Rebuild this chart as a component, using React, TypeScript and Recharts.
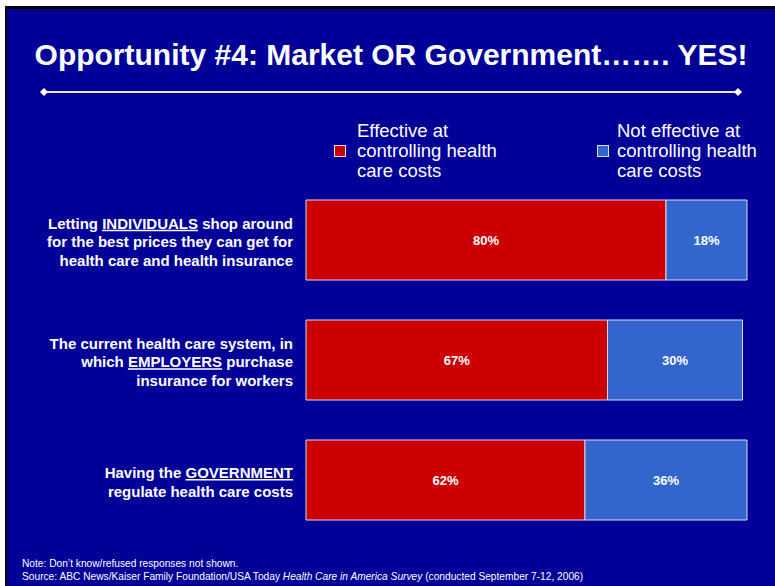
import { BarChart, Bar, XAxis, YAxis, LabelList } from 'recharts';

// categories, label lines (words between _ are underlined), series values
const categories = ['INDIVIDUALS', 'EMPLOYERS', 'GOVERNMENT'];
const labelLines = [
  ['Letting _INDIVIDUALS_ shop around', 'for the best prices they can get for', 'health care and health insurance'],
  ['The current health care system, in', 'which _EMPLOYERS_ purchase', 'insurance for workers'],
  ['Having the _GOVERNMENT_', 'regulate health care costs'],
];
const effective = [80, 67, 62];
const notEffective = [18, 30, 36];
const seriesNames = [
  ['Effective at', 'controlling health', 'care costs'],
  ['Not effective at', 'controlling health', 'care costs'],
];

const RED = '#CC0000';
const BLUE = '#3366CC';
const BG = '#000099';
const FONT = '"Liberation Sans", Arial, sans-serif';

const data = categories.map((c, i) => ({ name: c, effective: effective[i], notEffective: notEffective[i] }));

const LabelTick = (props: any) => {
  const { x, y, payload } = props;
  const lines = labelLines[payload.index] ?? [];
  const step = 18.5;
  const start = y - ((lines.length - 1) * step) / 2 + 2;
  return (
    <text x={x - 5} y={start} textAnchor="end" fill="#fff" fontFamily={FONT} fontSize={15} fontWeight="bold">
      {lines.map((line, li) => (
        <tspan key={li} x={x - 5} y={start + li * step} dy="0.35em">
          {line.split('_').map((part, pi) => (
            <tspan key={pi} style={pi % 2 === 1 ? { textDecoration: 'underline' } : undefined}>
              {part}
            </tspan>
          ))}
        </tspan>
      ))}
    </text>
  );
};

const legendX = [334, 597];

export default function App() {
  return (
    <div style={{ position: 'absolute', left: 0, top: 0, width: 775, height: 586, background: '#fff', overflow: 'hidden' }}>
      <div
        style={{
          position: 'absolute',
          left: 5,
          top: 6,
          width: 790,
          height: 577,
          background: BG,
          borderTop: '3px solid #000',
          borderLeft: '2px solid #000',
          borderBottom: '2px solid #000',
        }}
      />
      <div
        style={{
          position: 'absolute',
          left: 7,
          top: 38,
          width: 768,
          textAlign: 'center',
          color: '#fff',
          fontFamily: FONT,
          fontWeight: 'bold',
          fontSize: 30,
        }}
      >
        Opportunity #4: Market OR Government……. YES!
      </div>
      <svg style={{ position: 'absolute', left: 0, top: 0 }} width={775} height={586}>
        <line x1={44} y1={92} x2={738} y2={92} stroke="#e8e8f0" strokeWidth={2} />
        <polygon points="44,88 48,92 44,96 40,92" fill="#fff" />
        <polygon points="738,88 742,92 738,96 734,92" fill="#fff" />
      </svg>
      {seriesNames.map((lines, i) => (
        <div
          key={i}
          style={{
            position: 'absolute',
            left: legendX[i],
            top: 121,
            fontFamily: FONT,
            fontSize: 18.5,
            color: '#fff',
            lineHeight: '20px',
            paddingLeft: i === 0 ? 23 : 20,
            whiteSpace: 'nowrap',
          }}
        >
          <div
            style={{
              position: 'absolute',
              left: 0,
              top: 24,
              width: 10,
              height: 10,
              background: i === 0 ? RED : BLUE,
              border: '1px solid #ddd',
            }}
          />
          {lines.map((l, li) => (
            <div key={li}>{l}</div>
          ))}
        </div>
      ))}
      <div style={{ position: 'absolute', left: 0, top: 0 }}>
        <BarChart
          width={775}
          height={586}
          data={data}
          layout="vertical"
          barCategoryGap={20}
          margin={{ top: 180, right: 19, bottom: 46, left: 0 }}
        >
          <XAxis type="number" domain={[0, 100]} hide />
          <YAxis
            type="category"
            dataKey="name"
            width={306}
            axisLine={false}
            tickLine={false}
            tick={<LabelTick />}
          />
          <Bar dataKey="effective" stackId="a" fill={RED} stroke="#d8d8e8" strokeWidth={1} isAnimationActive={false}>
            <LabelList
              dataKey="effective"
              position="center"
              formatter={(v: any) => `${v}%`}
              fill="#fff"
              fontFamily={FONT}
              fontSize={13}
              fontWeight="bold"
            />
          </Bar>
          <Bar dataKey="notEffective" stackId="a" fill={BLUE} stroke="#d8d8e8" strokeWidth={1} isAnimationActive={false}>
            <LabelList
              dataKey="notEffective"
              position="center"
              formatter={(v: any) => `${v}%`}
              fill="#fff"
              fontFamily={FONT}
              fontSize={13}
              fontWeight="bold"
            />
          </Bar>
        </BarChart>
      </div>
      <div
        style={{
          position: 'absolute',
          left: 22,
          top: 557,
          color: '#fff',
          fontFamily: FONT,
          fontSize: 10.2,
          lineHeight: '13px',
        }}
      >
        <div>Note: Don’t know/refused responses not shown.</div>
        <div>
          Source: ABC News/Kaiser Family Foundation/USA Today <i>Health Care in America Survey</i> (conducted September 7-12, 2006)
        </div>
      </div>
    </div>
  );
}
